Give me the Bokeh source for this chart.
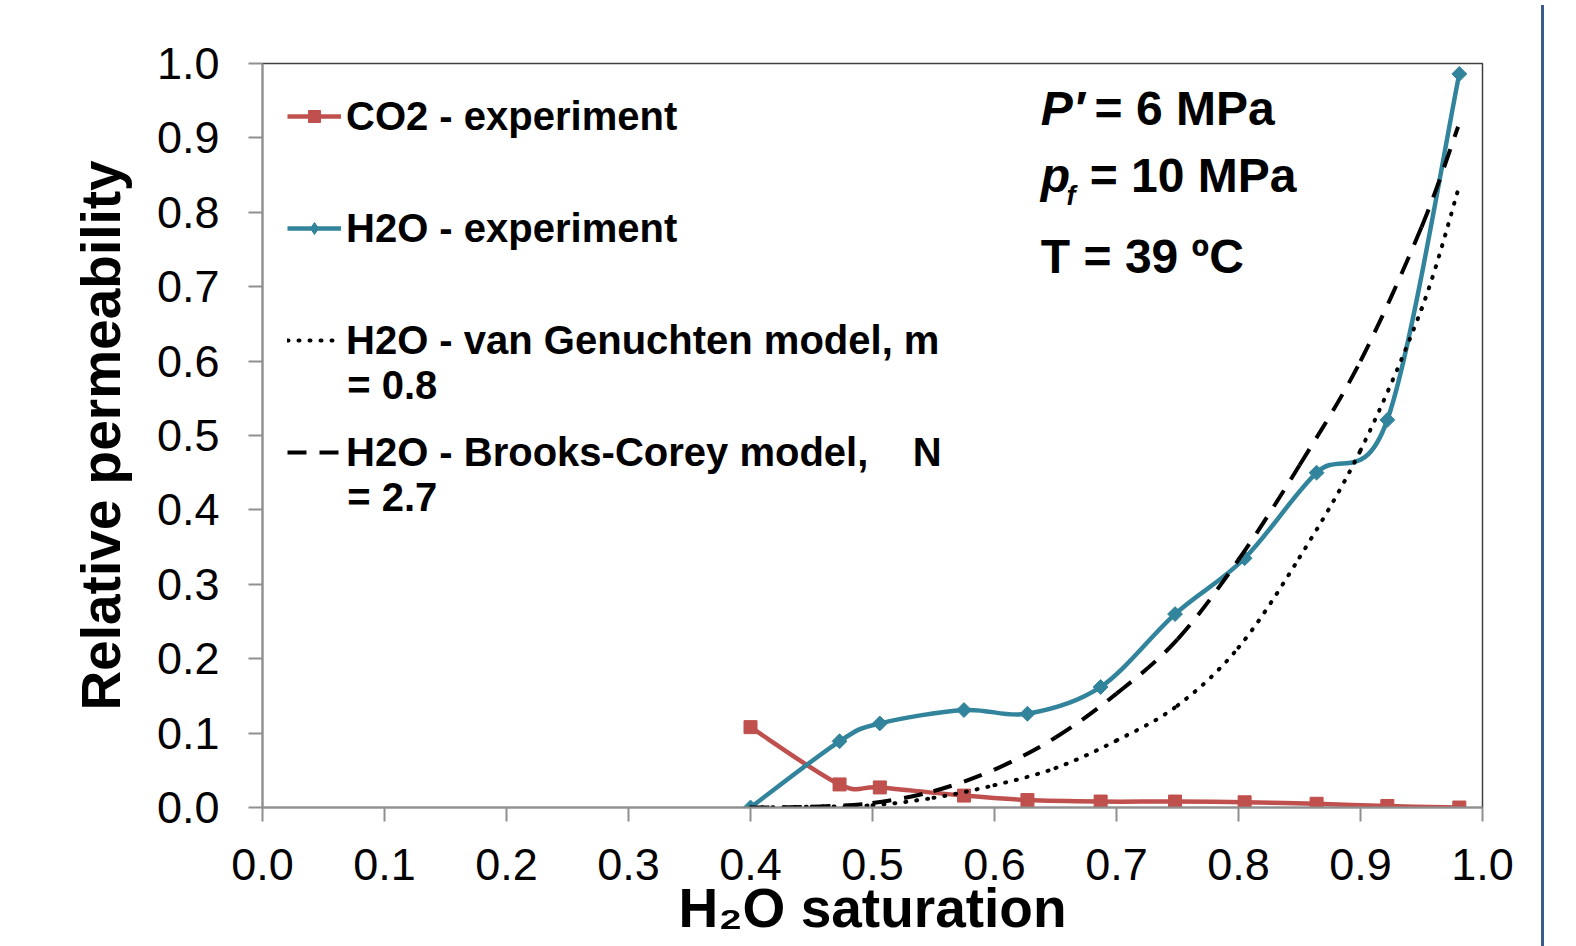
import numpy as np
from bokeh.plotting import figure
from bokeh.layouts import row
from bokeh.models import (Legend, LegendItem, Label, FixedTicker, Div,
                          NumeralTickFormatter, Range1d, ColumnDataSource)
from bokeh.embed import file_html
from bokeh.resources import INLINE

# ---------------- data ----------------
sat = [0.400, 0.473, 0.506, 0.575, 0.627, 0.687, 0.748, 0.805, 0.864, 0.922, 0.981]
kr_co2 = [0.108, 0.031, 0.027, 0.016, 0.010, 0.008, 0.008, 0.007, 0.005, 0.002, 0.000]
kr_h2o = [0.000, 0.089, 0.113, 0.131, 0.126, 0.162, 0.260, 0.335, 0.450, 0.521, 0.986]

sat_model = [0.40, 0.45, 0.50, 0.55, 0.60, 0.65, 0.70, 0.75, 0.80, 0.85, 0.90, 0.95, 0.98]
kr_vg = [0.000, 0.001, 0.003, 0.013, 0.030, 0.053, 0.090, 0.137, 0.215, 0.336, 0.480, 0.670, 0.830]
kr_bc = [0.000, 0.001, 0.006, 0.022, 0.051, 0.094, 0.153, 0.226, 0.333, 0.460, 0.600, 0.780, 0.915]

x_ticks = [0.0, 0.1, 0.2, 0.3, 0.4, 0.5, 0.6, 0.7, 0.8, 0.9, 1.0]
y_ticks = [0.0, 0.1, 0.2, 0.3, 0.4, 0.5, 0.6, 0.7, 0.8, 0.9, 1.0]

legend_labels = ["CO2 - experiment", "H2O - experiment",
                 "H2O - van Genuchten model, m", "H2O - Brooks-Corey model,\u00a0\u00a0\u00a0 N"]
legend_cont = ["= 0.8", "= 2.7"]

RED = "#C0504D"
TEAL = "#31849B"
FONT = "Liberation Sans"


def smooth_segments(x, y):
    """Cubic Bezier segments through the points (Excel-style smoothed line)."""
    x = np.asarray(x, float)
    y = np.asarray(y, float)
    n = len(x)
    idx = np.arange(n - 1)
    prv = np.clip(idx - 1, 0, n - 1)
    nxt = np.clip(idx + 2, 0, n - 1)
    return dict(
        x0=x[idx], y0=y[idx], x1=x[idx + 1], y1=y[idx + 1],
        cx0=x[idx] + (x[idx + 1] - x[prv]) / 6.0,
        cy0=y[idx] + (y[idx + 1] - y[prv]) / 6.0,
        cx1=x[idx + 1] - (x[nxt] - x[idx]) / 6.0,
        cy1=y[idx + 1] - (y[nxt] - y[idx]) / 6.0,
    )


p = figure(width=1536, height=946, output_backend="svg", toolbar_location=None,
           x_range=Range1d(0, 1), y_range=Range1d(0, 1),
           min_border_left=262, min_border_right=54, min_border_top=63, min_border_bottom=139)
p.grid.visible = False
p.background_fill_color = "white"
p.border_fill_color = "white"
p.outline_line_color = "#404040"
p.outline_line_width = 1.5

BZ = dict(x0="x0", y0="y0", x1="x1", y1="y1", cx0="cx0", cy0="cy0", cx1="cx1", cy1="cy1")

# --- series ---
r_co2_line = p.bezier(source=ColumnDataSource(smooth_segments(sat, kr_co2)), line_color=RED,
                      line_width=4.5, **BZ)
r_co2_pts = p.scatter(sat, kr_co2, marker="square", size=13, fill_color=RED, line_color=RED)

r_h2o_line = p.bezier(source=ColumnDataSource(smooth_segments(sat, kr_h2o)), line_color=TEAL,
                      line_width=4.5, **BZ)
r_h2o_pts = p.scatter(sat, kr_h2o, marker="square", angle=np.pi / 4, size=10.5,
                      fill_color=TEAL, line_color=TEAL)
# legend key marker for the H2O series (zero size in the plot; the legend sizes it itself)
r_h2o_key = p.scatter(sat[:1], kr_h2o[:1], marker="diamond", size=0,
                      fill_color=TEAL, line_color=TEAL)

r_vg = p.bezier(source=ColumnDataSource(smooth_segments(sat_model, kr_vg)), line_color="black",
                line_width=4, line_dash="1 10", line_cap="round", **BZ)
r_bc = p.bezier(source=ColumnDataSource(smooth_segments(sat_model, kr_bc)), line_color="black",
                line_width=4, line_dash="19 13", **BZ)

# --- axes ---
for ax in (p.xaxis[0], p.yaxis[0]):
    ax.axis_line_color = "#8f8f8f"
    ax.axis_line_width = 2
    ax.major_tick_line_color = "#8f8f8f"
    ax.major_tick_line_width = 2
    ax.major_tick_in = 0
    ax.major_tick_out = 14
    ax.minor_tick_line_color = None
    ax.major_label_text_font = FONT
    ax.major_label_text_font_size = "45px"
    ax.major_label_text_color = "black"
    ax.axis_label_text_font = FONT
    ax.axis_label_text_font_style = "bold"
    ax.axis_label_text_font_size = "55px"
    ax.axis_label_text_color = "black"
    ax.formatter = NumeralTickFormatter(format="0.0")

p.xaxis.ticker = FixedTicker(ticks=x_ticks)
p.yaxis.ticker = FixedTicker(ticks=y_ticks)
p.xaxis.axis_label = "H\u2082O saturation"
p.yaxis.axis_label = "Relative permeability"
p.xaxis.major_label_standoff = 27
p.yaxis.major_label_standoff = 29
p.xaxis.axis_label_standoff = -6
p.yaxis.axis_label_standoff = 22

# --- legend ---
legend = Legend(items=[
    LegendItem(label=legend_labels[0], renderers=[r_co2_line, r_co2_pts]),
    LegendItem(label=legend_labels[1], renderers=[r_h2o_line, r_h2o_key]),
    LegendItem(label=legend_labels[2], renderers=[r_vg]),
    LegendItem(label=legend_labels[3], renderers=[r_bc]),
], location="top_left", margin=0, padding=25, spacing=56,
    glyph_width=54, glyph_height=30, label_height=56, label_standoff=5,
    label_text_font=FONT, label_text_font_style="bold", label_text_font_size="40px",
    label_text_color="black", background_fill_alpha=0, border_line_alpha=0)
p.add_layout(legend)

for txt, yy in zip(legend_cont, [0.568, 0.417]):
    p.add_layout(Label(x=0.0694, y=yy, text=txt, text_font=FONT, text_font_style="bold",
                       text_font_size="40px", text_baseline="alphabetic", text_color="black"))

# --- annotation block ---
ann = dict(text_font=FONT, text_font_size="48px", text_baseline="alphabetic", text_color="black")
p.add_layout(Label(x=0.638, y=0.939, text="P\u2032", text_font_style="bold italic", **ann))
p.add_layout(Label(x=0.682, y=0.939, text="= 6 MPa", text_font_style="bold", **ann))
p.add_layout(Label(x=0.638, y=0.850, text="p", text_font_style="bold italic", **ann))
p.add_layout(Label(x=0.659, y=0.822, text="f", text_font_style="bold italic", text_font=FONT,
                   text_font_size="27px", text_baseline="alphabetic", text_color="black"))
p.add_layout(Label(x=0.678, y=0.850, text="= 10 MPa", text_font_style="bold", **ann))
p.add_layout(Label(x=0.638, y=0.740, text="T = 39 \u00baC", text_font_style="bold", **ann))

# --- slide border line at the right ---
edge = Div(text="", width=3, height=946, styles={"background-color": "#3B5A8C"})

open("out.html", "w").write(file_html(row(p, edge), INLINE))
